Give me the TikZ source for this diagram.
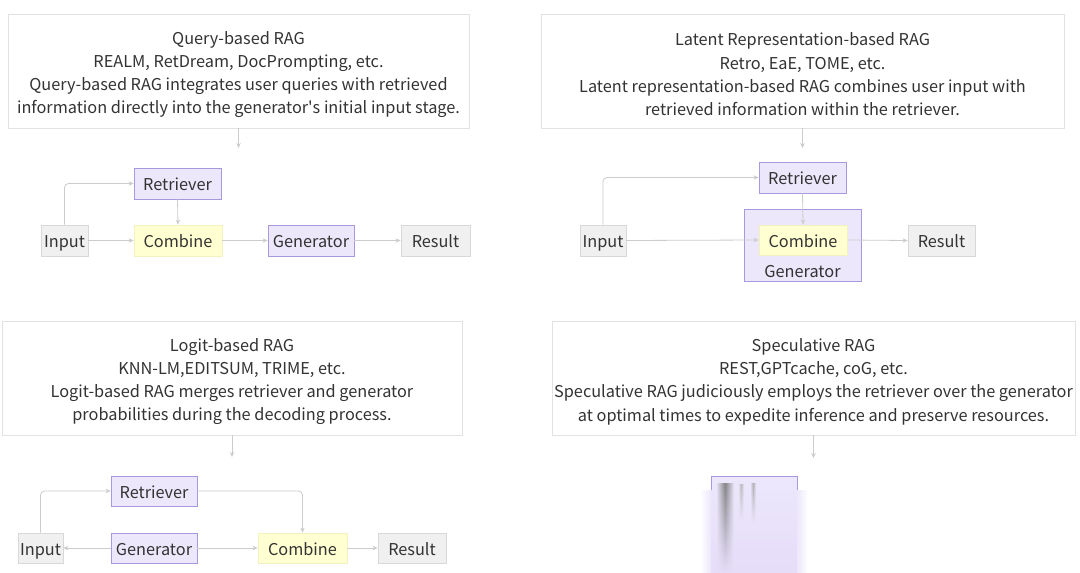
\documentclass[tikz,border=0pt]{standalone}
\usepackage{fontspec}
\setmainfont{Noto Sans CJK SC}
\usetikzlibrary{arrows.meta,fadings}
\definecolor{txt}{HTML}{333333}
\definecolor{pfill}{HTML}{ECE7FB}
\definecolor{pdeep}{HTML}{E6DDF9}
\definecolor{pline}{HTML}{A898DE}
\definecolor{yfill}{HTML}{FFFFD2}
\definecolor{yline}{HTML}{F2F2C0}
\definecolor{gfill}{HTML}{F0F0F0}
\definecolor{gline}{HTML}{D8D8D8}
\definecolor{boxline}{HTML}{E2E2E2}
\definecolor{eline}{HTML}{CCCCCC}
\tikzfading[name=fadedown, top color=transparent!15, bottom color=transparent!100]
\begin{document}
\begin{tikzpicture}[x=1pt,y=-1pt,
  base/.style={rectangle, inner sep=0pt, minimum height=31pt, line width=0.8pt,
    text height=16pt, text depth=2pt,
    font=\fontsize{16.3}{19}\selectfont, text=txt},
  pnode/.style={base, fill=pfill, draw=pline},
  ynode/.style={base, fill=yfill, draw=yline},
  gnode/.style={base, fill=gfill, draw=gline},
  infobox/.style={draw=boxline, fill=white, line width=0.8pt, inner sep=0pt, minimum height=114pt},
  infotext/.style={align=center, font=\fontsize{16.3}{23.3}\selectfont, text=txt, inner sep=0pt},
  edge/.style={draw=eline, line width=0.8pt, -{Stealth[length=5pt,width=4.5pt]}, rounded corners=4pt},
  lbl/.style={font=\fontsize{16.3}{19}\selectfont, text=txt, inner sep=0pt}
]
\useasboundingbox[fill=white] (0,0) rectangle (1080,573);

% ---------- info boxes ----------
\node[infobox, minimum width=461pt] (box1) at (238.5,71) {};
\node[infotext] (box1t) at (238.5,74.5)
  {Query-based RAG\\REALM, RetDream, DocPrompting, etc.\\Query-based RAG integrates user queries with retrieved\\information directly into the generator\textquotesingle s initial input stage.};
\node[infobox, minimum width=523pt] (box2) at (802.5,71) {};
\node[infotext] (box2t) at (802.5,74.5)
  {Latent Representation-based RAG\\Retro, EaE, TOME, etc.\\Latent representation-based RAG combines user input with\\retrieved information within the retriever.};
\node[infobox, minimum width=460pt] (box3) at (232,378) {};
\node[infotext] (box3t) at (232,381.5)
  {Logit-based RAG\\KNN-LM,EDITSUM, TRIME, etc.\\Logit-based RAG merges retriever and generator\\probabilities during the decoding process.};
\node[infobox, minimum width=523pt] (box4) at (813.5,378) {};
\node[infotext] (box4t) at (813.5,381.5)
  {Speculative RAG\\REST,GPTcache, coG, etc.\\Speculative RAG judiciously employs the retriever over the generator\\at optimal times to expedite inference and preserve resources.};

\coordinate (e1) at (238.5,148);
\coordinate (e2) at (802.5,148);
\coordinate (e3) at (232,457);
\coordinate (e4) at (813.5,458);
\draw[edge] (box1.south) -- (e1);
\draw[edge] (box2.south) -- (e2);
\draw[edge] (box3.south) -- (e3);
\draw[edge] (box4.south) -- (e4);

% ---------- diagram 1 ----------
\node[gnode, minimum width=47pt] (in1) at (64.5,240.5) {Input};
\node[pnode, minimum width=87pt] (ret1) at (177.5,183.5) {Retriever};
\node[ynode, minimum width=88pt] (com1) at (178,240.5) {Combine};
\node[pnode, minimum width=86pt] (gen1) at (311,240.5) {Generator};
\node[gnode, minimum width=69pt] (res1) at (435.5,240.5) {Result};
\draw[edge] (in1.north) |- (ret1.west);
\draw[edge] (ret1.south) -- (com1.north);
\draw[edge] (in1) -- (com1);
\draw[edge] (com1) -- (gen1);
\draw[edge] (gen1) -- (res1);

% ---------- diagram 2 ----------
\node[pnode, minimum width=117pt, minimum height=72pt] (gen2) at (802.5,245) {};
\node[lbl] (gen2lbl) at (802.5,272) {Generator};
\node[gnode, minimum width=46pt] (in2) at (603,240.5) {Input};
\node[pnode, minimum width=87pt] (ret2) at (802.5,177.5) {Retriever};
\node[ynode, minimum width=88pt, minimum height=30pt] (com2) at (803,240) {Combine};
\node[gnode, minimum width=67pt] (res2) at (941.5,240.5) {Result};
\draw[edge] (in2.north) |- (ret2.west);
\draw[edge] (ret2.south) -- (com2.north);
\draw[edge] (in2.east) -- (com2.west);
\draw[edge] (com2.east) -- (res2.west);

% ---------- diagram 3 ----------
\node[pnode, minimum width=86pt, minimum height=30pt] (ret3) at (154,491) {Retriever};
\node[gnode, minimum width=45pt, minimum height=30pt] (in3) at (40.5,548) {Input};
\node[pnode, minimum width=86pt, minimum height=30pt] (gen3) at (154,548) {Generator};
\node[ynode, minimum width=89pt, minimum height=30pt] (com3) at (302.5,548) {Combine};
\node[gnode, minimum width=68pt, minimum height=30pt] (res3) at (412,548) {Result};
\draw[edge] (in3.north) |- (ret3.west);
\draw[edge] (ret3.east) -| (com3.north);
\draw[edge] (gen3) -- (in3);
\draw[edge] (gen3) -- (com3);
\draw[edge] (com3) -- (res3);

% ---------- diagram 4 (partially loaded) ----------
\shade[top color=pfill, bottom color=pdeep] (711,476) rectangle (797,573);
\shade[left color=white, right color=pfill] (700,490) rectangle (711,573);
\shade[left color=pfill, right color=white] (797,490) rectangle (808,573);
\draw[pline, line width=0.8pt] (711,490) -- (711,476) -- (797,476) -- (797,490);
\shade[left color=pfill, right color=pfill, middle color=black!55, path fading=fadedown] (716,484) rectangle (734,573);
\shade[left color=pfill, right color=pfill, middle color=black!30, path fading=fadedown] (738,484) rectangle (744,520);
\shade[left color=pfill, right color=pfill, middle color=black!35, path fading=fadedown] (750,483) rectangle (756,522);
\end{tikzpicture}
\end{document}
